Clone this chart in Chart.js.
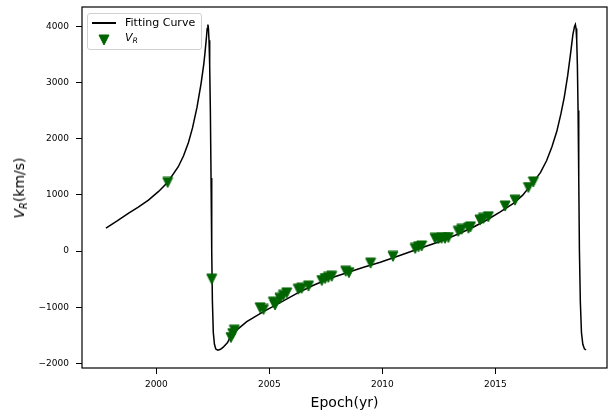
<!DOCTYPE html>
<html>
<head>
<meta charset="utf-8">
<script src="https://cdn.jsdelivr.net/npm/chart.js@4.4.0/dist/chart.umd.min.js"></script>
<style>
html,body{margin:0;padding:0;background:#fff;}
#wrap{position:relative;width:608px;height:413px;font-family:'DejaVu Sans',sans-serif;color:#000;overflow:hidden;}
#c{position:absolute;left:0;top:0;}
#ytitle{position:absolute;left:19px;top:187.5px;transform:translate(-50%,-50%) rotate(-90deg);white-space:nowrap;font-size:14px;line-height:16px;z-index:2;}
#ytitle i{font-style:italic;}
#ytitle sub,#legend sub{font-size:0.7em;vertical-align:-0.28em;line-height:0;font-style:italic;}
#legendBox{position:absolute;left:87px;top:13px;width:115px;height:37px;box-sizing:border-box;border:1px solid #d0d0d0;border-radius:3px;background:rgba(255,255,255,0.8);z-index:2;}
.lg{position:absolute;z-index:3;}
.lt{font-size:11px;line-height:13px;white-space:nowrap;}
</style>
</head>
<body>
<div id="wrap">
<canvas id="c" width="608" height="413"></canvas>
<div id="ytitle"><i>V</i><sub>R</sub>(km/s)</div>
<div id="legend">
  <div id="legendBox"></div>
  <div class="lg" style="left:92px;top:22px;width:24px;height:1.5px;background:#000;"></div>
  <div class="lg lt" style="left:125px;top:16.4px;">Fitting Curve</div>
  <svg class="lg" style="left:98px;top:34px;" width="12" height="12"><polygon points="1,1 11,1 6,11" fill="#006400" stroke="#006400" stroke-width="1"/></svg>
  <div class="lg lt" style="left:125px;top:31.4px;"><i>V</i><sub>R</sub></div>
</div>
</div>
<script>
// ---- data ----
const curveYears = [1997.77,1998.25,1998.76,1999.20,1999.65,2000.10,2000.50,2000.97,2001.20,2001.42,2001.60,2001.80,2001.98,2002.10,2002.15,2002.22,2002.25,2002.28,2002.30,2002.33,2002.36,2002.39,2002.42,2002.45,2002.48,2002.52,2002.57,2002.63,2002.72,2002.84,2002.96,2003.15,2003.27,2003.63,2004.00,2004.74,2005.48,2006.22,2006.95,2007.69,2008.43,2009.17,2009.91,2010.80,2011.67,2012.55,2013.44,2014.10,2014.62,2015.20,2015.80,2016.20,2016.68,2017.00,2017.27,2017.50,2017.72,2017.90,2018.05,2018.20,2018.33,2018.43,2018.50,2018.54,2018.57,2018.60,2018.63,2018.66,2018.69,2018.72,2018.76,2018.81,2018.87,2018.94,2019.01];
const curveVel   = [409,530,670,780,907,1060,1225,1500,1690,1930,2190,2560,2984,3330,3518,3820,3960,4030,3990,3750,3300,2500,1300,0,-900,-1450,-1660,-1745,-1766,-1748,-1712,-1630,-1530,-1380,-1258,-1080,-920,-753,-610,-486,-386,-290,-200,-75,48,170,315,440,552,690,849,990,1225,1400,1610,1850,2130,2440,2740,3120,3520,3850,3990,4030,3960,3750,3300,2500,1300,0,-900,-1450,-1660,-1740,-1762];

const obsYears = [2000.50,2002.45,2003.30,2003.38,2003.45,2004.59,2004.74,2005.18,2005.25,2005.47,2005.62,2005.77,2006.28,2006.43,2006.73,2007.32,2007.47,2007.61,2007.76,2008.38,2008.52,2009.48,2010.47,2011.45,2011.60,2011.74,2012.33,2012.48,2012.62,2012.77,2012.92,2013.36,2013.51,2013.81,2013.90,2014.32,2014.47,2014.69,2015.43,2015.87,2016.46,2016.68];
const obsVel   = [1220,-500,-1540,-1470,-1410,-1010,-1040,-910,-960,-840,-790,-745,-680,-665,-625,-525,-490,-470,-450,-360,-385,-215,-95,45,75,90,225,220,225,225,240,350,385,405,430,550,580,610,800,905,1130,1230];

const xTickValues = [2000,2005,2010,2015];
const yTickValues = [-2000,-1000,0,1000,2000,3000,4000];

const xRange = [1996.71, 2019.94];
const yRange = [-2082, 4342];

// ---- build chart ----
Chart.defaults.font.family = "'DejaVu Sans', sans-serif";
Chart.defaults.color = '#000';

const curvePts = curveYears.map((x,i)=>({x:x, y:curveVel[i]}));
const obsPts = obsYears.map((x,i)=>({x:x, y:obsVel[i]}));

const tri = document.createElement('canvas');
tri.width = 12; tri.height = 12;
const tc = tri.getContext('2d');
tc.fillStyle = '#006400'; tc.strokeStyle = '#006400'; tc.lineWidth = 1;
tc.beginPath(); tc.moveTo(1,1); tc.lineTo(11,1); tc.lineTo(6,11); tc.closePath(); tc.fill(); tc.stroke();

const framePlugin = {
  id: 'frame',
  afterDatasetsDraw(chart){
    const {ctx, chartArea:a} = chart;
    ctx.save();
    ctx.strokeStyle = '#000';
    ctx.lineWidth = 1.2;
    ctx.strokeRect(a.left, a.top, a.right - a.left, a.bottom - a.top);
    ctx.restore();
  }
};

const minus = v => v < 0 ? '\u2212' + Math.abs(v) : String(v);
const noPad = s => { s.paddingLeft = 0; s.paddingRight = 0; s.paddingTop = 0; s.paddingBottom = 0; };

new Chart(document.getElementById('c'), {
  type: 'scatter',
  data: {
    datasets: [
      {
        label: 'V_R',
        data: obsPts,
        pointStyle: tri,
        pointRadius: 6,
        pointHoverRadius: 6,
        showLine: false,
        clip: false,
        backgroundColor: '#006400',
        borderColor: '#006400'
      },
      {
        label: 'Fitting Curve',
        data: curvePts,
        showLine: true,
        pointRadius: 0,
        pointHoverRadius: 0,
        borderColor: '#000',
        borderWidth: 1.5,
        tension: 0,
        fill: false
      }
    ]
  },
  options: {
    responsive: false,
    animation: false,
    devicePixelRatio: 1,
    layout: { autoPadding: false, padding: { left: 0, right: 1, top: 7, bottom: 0 } },
    plugins: { legend: { display: false }, tooltip: { enabled: false } },
    scales: {
      x: {
        type: 'linear',
        min: xRange[0], max: xRange[1],
        afterBuildTicks: s => { s.ticks = xTickValues.map(v => ({value: v})); },
        afterFit: s => { s.height = 45; noPad(s); },
        border: { display: false },
        grid: { display: true, drawOnChartArea: false, drawTicks: true, tickLength: 6, tickColor: '#000', tickWidth: 1 },
        ticks: { color: '#000', font: { size: 9 }, padding: 5, maxRotation: 0, autoSkip: false, callback: v => String(v) },
        title: { display: true, text: 'Epoch(yr)', color: '#000', font: { size: 14 }, padding: { top: 0, bottom: 1 } }
      },
      y: {
        type: 'linear',
        min: yRange[0], max: yRange[1],
        afterBuildTicks: s => { s.ticks = yTickValues.map(v => ({value: v})); },
        afterFit: s => { s.width = 82; noPad(s); },
        border: { display: false },
        grid: { display: true, drawOnChartArea: false, drawTicks: true, tickLength: 6, tickColor: '#000', tickWidth: 1 },
        ticks: { color: '#000', font: { size: 9 }, padding: 7, autoSkip: false, callback: v => minus(v) }
      }
    }
  },
  plugins: [framePlugin]
});
</script>
</body>
</html>
